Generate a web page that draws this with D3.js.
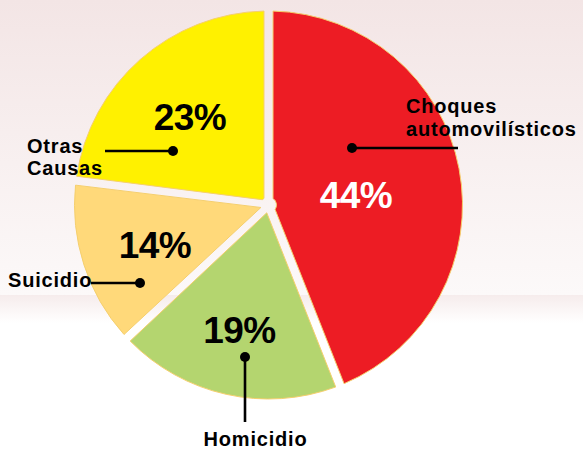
<!DOCTYPE html>
<html>
<head>
<meta charset="utf-8">
<script src="https://cdn.jsdelivr.net/npm/d3@7"></script>
<style>
  html, body { margin: 0; padding: 0; background: #fff; }
  svg { display: block; }
</style>
</head>
<body>
<div id="chart"></div>
<script>
// data
var categories = ["Choques automovilísticos", "Homicidio", "Suicidio", "Otras Causas"];
var values = [44, 19, 14, 23];
var pctLabels = ["44%", "19%", "14%", "23%"];
var nameLines = [["Choques", "automovilísticos"], ["Homicidio"], ["Suicidio"], ["Otras", "Causas"]];

var colors = ["#ED1C24", "#B4D56F", "#FFD97A", "#FFF100"];

// 1. size
var outWidth = 583, outHeight = 450;
var cx = 268.5, cy = 205, radius = 194;

var svg = d3.select("#chart").append("svg")
    .attr("width", outWidth)
    .attr("height", outHeight);

// 2. background (pink fade at top, small band below)
var defs = svg.append("defs");
var g1 = defs.append("linearGradient").attr("id", "bgTop")
    .attr("x1", 0).attr("y1", 0).attr("x2", 0).attr("y2", 1);
g1.append("stop").attr("offset", "0%").attr("stop-color", "#F3E5E5");
g1.append("stop").attr("offset", "100%").attr("stop-color", "#FCF9F9");
var g2 = defs.append("linearGradient").attr("id", "bgBand")
    .attr("x1", 0).attr("y1", 0).attr("x2", 0).attr("y2", 1);
g2.append("stop").attr("offset", "0%").attr("stop-color", "#F6ECEC");
g2.append("stop").attr("offset", "100%").attr("stop-color", "#FFFFFF");

svg.append("rect").attr("x", 0).attr("y", 0)
    .attr("width", outWidth).attr("height", 295)
    .attr("fill", "url(#bgTop)");
svg.append("rect").attr("x", 0).attr("y", 295)
    .attr("width", outWidth).attr("height", 28)
    .attr("fill", "url(#bgBand)");

// 3. pie
var pie = d3.pie().sort(null).value(function(d) { return d; });
var gap = 9;
var arc = d3.arc()
    .innerRadius(8)
    .outerRadius(radius)
    .padRadius(radius)
    .padAngle(gap / radius);

var g = svg.append("g")
    .attr("transform", "translate(" + cx + "," + cy + ")");

var arcs = pie(values);

g.selectAll("path.slice")
    .data(arcs)
  .enter().append("path")
    .attr("class", "slice")
    .attr("d", arc)
    .attr("fill", function(d, i) { return colors[i]; })
    .attr("stroke", "#F5CF6E")
    .attr("stroke-width", 1);

// 4. annotations, offsets from the pie centre
var layout = [
  { pct: [87.5, 3], pctFill: "#fff", dot: [83.5, -57], end: [189.5, -57],
    name: [137.5, -92], anchor: "start", lh: 23 },
  { pct: [-29, 138], pctFill: "#000", dot: [-23.5, 152], end: [-23.5, 217],
    name: [-13, 241], anchor: "middle", lh: 23 },
  { pct: [-113.5, 53], pctFill: "#000", dot: [-128.5, 78], end: [-177.5, 78],
    name: [-260.5, 82], anchor: "start", lh: 23 },
  { pct: [-78.5, -75], pctFill: "#000", dot: [-95.5, -54], end: [-163.5, -54],
    name: [-241.5, -52], anchor: "start", lh: 22 }
];

var ann = g.selectAll("g.ann")
    .data(arcs)
  .enter().append("g")
    .attr("class", "ann");

ann.append("line")
    .attr("x1", function(d, i) { return layout[i].dot[0]; })
    .attr("y1", function(d, i) { return layout[i].dot[1]; })
    .attr("x2", function(d, i) { return layout[i].end[0]; })
    .attr("y2", function(d, i) { return layout[i].end[1]; })
    .attr("stroke", "#000")
    .attr("stroke-width", 2.6);

ann.append("circle")
    .attr("cx", function(d, i) { return layout[i].dot[0]; })
    .attr("cy", function(d, i) { return layout[i].dot[1]; })
    .attr("r", 5)
    .attr("fill", "#000");

ann.append("text")
    .attr("x", function(d, i) { return layout[i].pct[0]; })
    .attr("y", function(d, i) { return layout[i].pct[1]; })
    .attr("text-anchor", "middle")
    .style("font-family", "'Liberation Sans', Arial, sans-serif")
    .style("font-weight", "bold")
    .style("font-size", "37px")
    .style("letter-spacing", "-0.5px")
    .attr("fill", function(d, i) { return layout[i].pctFill; })
    .text(function(d, i) { return pctLabels[i]; });

var names = ann.append("text")
    .attr("text-anchor", function(d, i) { return layout[i].anchor; })
    .style("font-family", "'Liberation Sans', Arial, sans-serif")
    .style("font-weight", "bold")
    .style("font-size", "20px")
    .style("letter-spacing", "0.8px")
    .attr("fill", "#000");

names.each(function(d, i) {
  var t = d3.select(this);
  nameLines[i].forEach(function(s, k) {
    t.append("tspan")
      .attr("x", layout[i].name[0])
      .attr("y", layout[i].name[1] + k * layout[i].lh)
      .text(s);
  });
});
</script>
</body>
</html>
